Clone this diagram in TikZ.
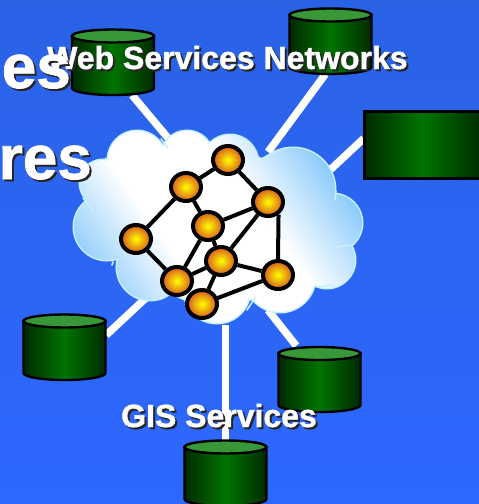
\documentclass[tikz,border=0pt]{standalone}
\usepackage{fontspec}
\setmainfont{Liberation Sans}
\newfontfamily\heavy[FakeBold=1.2]{Liberation Sans Bold}
\usetikzlibrary{shapes.geometric}
\definecolor{bgtop}{HTML}{2A62E6}
\definecolor{bgbot}{HTML}{2D68FF}
\definecolor{cyldark}{HTML}{002A00}
\definecolor{cylmid}{HTML}{007400}
\definecolor{cyltop}{HTML}{389838}
\definecolor{cloudrim}{HTML}{C4F2FF}
\definecolor{cloudblue}{HTML}{8CCBFA}
\definecolor{ballout}{HTML}{D8581F}
\pgfdeclarelayer{under}
\pgfsetlayers{under,main}
\pgfdeclarehorizontalshading{cloudsh}{100bp}{color(0bp)=(cloudblue); color(29bp)=(cloudblue); color(42bp)=(white); color(57bp)=(white); color(70bp)=(cloudblue); color(100bp)=(cloudblue)}
\newcommand{\shtext}[1]{\leavevmode\rlap{\raisebox{-2pt}{\kern2pt\color{black!85}#1}}\color{white}#1}
\newcommand{\mycyl}[3]{% left x, top y (ellipse centre), bottom y (arc start)
  \pgfmathsetmacro{\xr}{#1+82}
  \path[draw=black,line width=2.4pt,left color=cyldark,right color=cyldark,middle color=cylmid]
    (#1,#2) -- (#1,#3) arc[start angle=180,end angle=360,x radius=41pt,y radius=7pt] -- (\xr,#2) -- cycle;
  \path[draw=black,line width=2.4pt,fill=cyltop] (#1+41,#2) ellipse[x radius=41pt,y radius=6.5pt];
}
\tikzset{
  hook/.style={inner sep=0pt,minimum width=83pt,minimum height=66pt},
  link/.style={draw=white,line width=7.5pt},
  net/.style={draw=black,line width=4pt},
  ball/.style={ellipse,draw=black,line width=4pt,inner color=yellow,outer color=ballout,
    minimum width=30pt,minimum height=28pt,inner sep=0pt},
  rim/.style={draw=cloudrim,line width=1.6pt,line cap=round},
  label/.style={font=\heavy\fontsize{32pt}{32pt}\selectfont,inner sep=0pt,anchor=base west},
  big/.style={font=\heavy\fontsize{62pt}{62pt}\selectfont,inner sep=0pt,anchor=base east}
}
\begin{document}
\begin{tikzpicture}[x=1pt,y=-1pt]
\useasboundingbox (0,0) rectangle (479,504);
% anchors for connectors
\node[hook] (c1) at (113,62) {};
\node[hook] (c2) at (330,41) {};
\node[hook] (c3) at (64.5,347) {};
\node[hook] (c4) at (319.5,379) {};
\node[hook] (c5) at (225.5,473) {};
\node[inner sep=0pt,minimum width=115pt,minimum height=67pt] (c6) at (421.5,144.5) {};
\coordinate (e1) at (168,138);
\coordinate (e2) at (268,152);
\coordinate (e3) at (148,296);
\coordinate (e4) at (268,310);
\coordinate (e5) at (225.5,325);
\coordinate (e6) at (329,171);
% network nodes
\node[ball] (n1) at (228,160) {};
\node[ball] (n2) at (186,187) {};
\node[ball] (n3) at (268,202) {};
\node[ball] (n4) at (208,226) {};
\node[ball] (n5) at (136,239) {};
\node[ball] (n6) at (221,261) {};
\node[ball] (n7) at (177,281) {};
\node[ball] (n8) at (278,275) {};
\node[ball] (n9) at (202,304) {};
\begin{pgfonlayer}{under}
\shade[top color=bgtop,bottom color=bgbot] (0,0) rectangle (479,504);
\draw[link] (c1.-60) -- (e1);
\draw[link] (c2.-98) -- (e2);
\draw[link] (c3.16) -- (e3);
\draw[link] (c4.125) -- (e4);
\draw[link] (c5.north) -- (e5);
\draw[link] (c6.174) -- (e6);
% cloud
\def\cloudlist{137/160/29,187/157/26,230/163/28,293/190/42,333/223/29,327/260/28,280/277/35,217/290/33,150/267/33,107/227/33,103/183/23,215/225/80,130/215/45,300/235/40,260/250/50,170/190/40}
\foreach \cx/\cy/\cr in \cloudlist {
  \draw[draw=cloudrim,line width=3pt] (\cx,\cy) circle[radius=\cr pt];
}
\foreach \cx/\cy/\cr in \cloudlist {
  \begin{scope}
    \clip (\cx,\cy) circle[radius=\cr pt];
    \shade[shading=cloudsh,shading angle=35] (60,70) rectangle (375,385);
  \end{scope}
}
\draw[rim] (161,139) -- (168,148);
\draw[rim] (105,160) -- (106,158);
\draw[rim] (83,198) -- (93,211);
\draw[rim] (261,159) -- (277,151);
\draw[rim] (335,200) -- (336,191);
\draw[rim] (332,248) -- (350,245);
\draw[rim] (317,287) -- (333,285);
\draw[rim] (255,298) -- (247,310);
\draw[rim] (112,265) -- (113,262);
% network edges
\draw[net] (n1) -- (n2);
\draw[net] (n1) -- (n3);
\draw[net] (n2) -- (n5);
\draw[net] (n2) -- (n4);
\draw[net] (n3) -- (n4);
\draw[net] (n3) -- (n6);
\draw[net] (n3.-50) -- (n8.north);
\draw[net] (n4) -- (n7);
\draw[net] (n4) -- (n6);
\draw[net] (n5) -- (n7);
\draw[net] (n7) -- (n6);
\draw[net] (n6) -- (n9);
\draw[net] (n6) -- (n8);
\draw[net] (n9) -- (n8);
\end{pgfonlayer}
% stores
\mycyl{72}{36}{88}
\mycyl{289.5}{15}{67}
\mycyl{23.5}{321}{373}
\mycyl{278.5}{353.5}{405}
\mycyl{184.5}{447}{499}
\begin{scope}
\clip (0,0) rectangle (479,504);
\path[draw=black,line width=3pt,left color=cyldark,right color=cyldark,middle color=cylmid]
  (364.5,111.5) rectangle (482,178);
\end{scope}
% texts
\node[label] (t1) at (47,69) {\shtext{Web Services Networks}};
\node[label] (t2) at (121,427) {\shtext{GIS Services}};
\node[big] (t3) at (71,88) {\shtext{es}};
\node[big] (t4) at (92,179) {\shtext{res}};
\end{tikzpicture}
\end{document}
